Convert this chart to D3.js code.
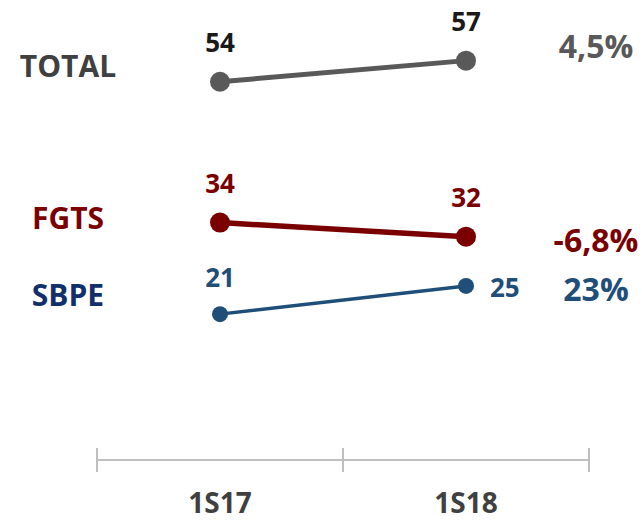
<!DOCTYPE html>
<html>
<head>
<meta charset="utf-8">
<script src="https://cdn.jsdelivr.net/npm/d3@7"></script>
<style>
  html, body { margin: 0; padding: 0; background: #ffffff; }
  svg { display: block; font-family: "Open Sans", Lato, sans-serif; font-weight: 700; }
</style>
</head>
<body>
<svg id="chart" width="642" height="522"></svg>
<script>
// Semesters on the category axis
const periods = ["1S17", "1S18"];

// Series names and their values per semester
const seriesNames = ["TOTAL", "FGTS", "SBPE"];
const totalValues = [54, 57];
const fgtsValues = [34, 32];
const sbpeValues = [21, 25];

// Change between semesters, as printed
const changeLabels = ["4,5%", "-6,8%", "23%"];

// Styling per series
const styles = [
  { line: "#595959", name: "#404040", value: "#1a1a1a", change: "#595959", width: 5, r: 10, nameY: 77, changeY: 58 },
  { line: "#7a0000", name: "#7a0000", value: "#7a0000", change: "#7a0000", width: 5.5, r: 10, nameY: 229, changeY: 252 },
  { line: "#1f4e79", name: "#112f6b", value: "#1f4e79", change: "#1f4e79", width: 3.5, r: 8, nameY: 306, changeY: 301 }
];

const seriesValues = [totalValues, fgtsValues, sbpeValues];
const series = seriesNames.map((name, i) => ({
  name, values: seriesValues[i], change: changeLabels[i], style: styles[i]
}));

const svg = d3.select("#chart");

const xBand = d3.scaleBand().domain(periods).range([97, 589]);
const x = d => xBand(d) + xBand.bandwidth() / 2;
const y = d3.scaleLinear().domain([0, 60]).range([462, 39.5]);

// Category axis: baseline with boundary ticks, labels centred under each band
const axisY = 460;
const axis = svg.append("g").attr("class", "x-axis");
axis.append("line")
  .attr("x1", xBand.range()[0]).attr("x2", xBand.range()[1])
  .attr("y1", axisY).attr("y2", axisY)
  .attr("stroke", "#bfbfbf").attr("stroke-width", 2);
const boundaries = periods.map(p => xBand(p)).concat([xBand.range()[1]]);
axis.selectAll("line.tick")
  .data(boundaries)
  .join("line")
  .attr("class", "tick")
  .attr("x1", d => d).attr("x2", d => d)
  .attr("y1", axisY - 12).attr("y2", axisY + 12)
  .attr("stroke", "#bfbfbf").attr("stroke-width", 2);
axis.selectAll("text")
  .data(periods)
  .join("text")
  .attr("x", d => x(d))
  .attr("y", 513)
  .attr("text-anchor", "middle")
  .attr("font-size", 28)
  .attr("fill", "#404040")
  .text(d => d);

const line = d3.line()
  .x((v, i) => x(periods[i]))
  .y(v => y(v));

const groups = svg.selectAll("g.series")
  .data(series)
  .join("g")
  .attr("class", "series");

groups.append("path")
  .attr("d", d => line(d.values))
  .attr("fill", "none")
  .attr("stroke", d => d.style.line)
  .attr("stroke-width", d => d.style.width);

groups.selectAll("circle")
  .data(d => d.values.map((v, i) => ({ v, i, s: d.style })))
  .join("circle")
  .attr("cx", d => x(periods[d.i]))
  .attr("cy", d => y(d.v))
  .attr("r", d => d.s.r)
  .attr("fill", d => d.s.line);

// Value labels: above each point, except the last SBPE point which sits to its right
groups.selectAll("text.value")
  .data(d => d.values.map((v, i) => ({ v, i, s: d.style, name: d.name })))
  .join("text")
  .attr("class", "value")
  .attr("font-size", 26)
  .attr("fill", d => d.s.value)
  .attr("text-anchor", d => (d.name === "SBPE" && d.i === 1) ? "start" : "middle")
  .attr("x", d => (d.name === "SBPE" && d.i === 1) ? x(periods[d.i]) + 24 : x(periods[d.i]))
  .attr("y", d => (d.name === "SBPE" && d.i === 1) ? y(d.v) + 11 : y(d.v) - (d.name === "SBPE" ? 27 : 30))
  .text(d => d.v);

// Series names on the left
groups.append("text")
  .attr("class", "name")
  .attr("x", 68)
  .attr("y", d => d.style.nameY)
  .attr("text-anchor", "middle")
  .attr("font-size", 30)
  .attr("fill", d => d.style.name)
  .text(d => d.name);

// Change between semesters on the right
groups.append("text")
  .attr("class", "change")
  .attr("x", 596)
  .attr("y", d => d.style.changeY)
  .attr("text-anchor", "middle")
  .attr("font-size", 32)
  .attr("fill", d => d.style.change)
  .text(d => d.change);
</script>
</body>
</html>
